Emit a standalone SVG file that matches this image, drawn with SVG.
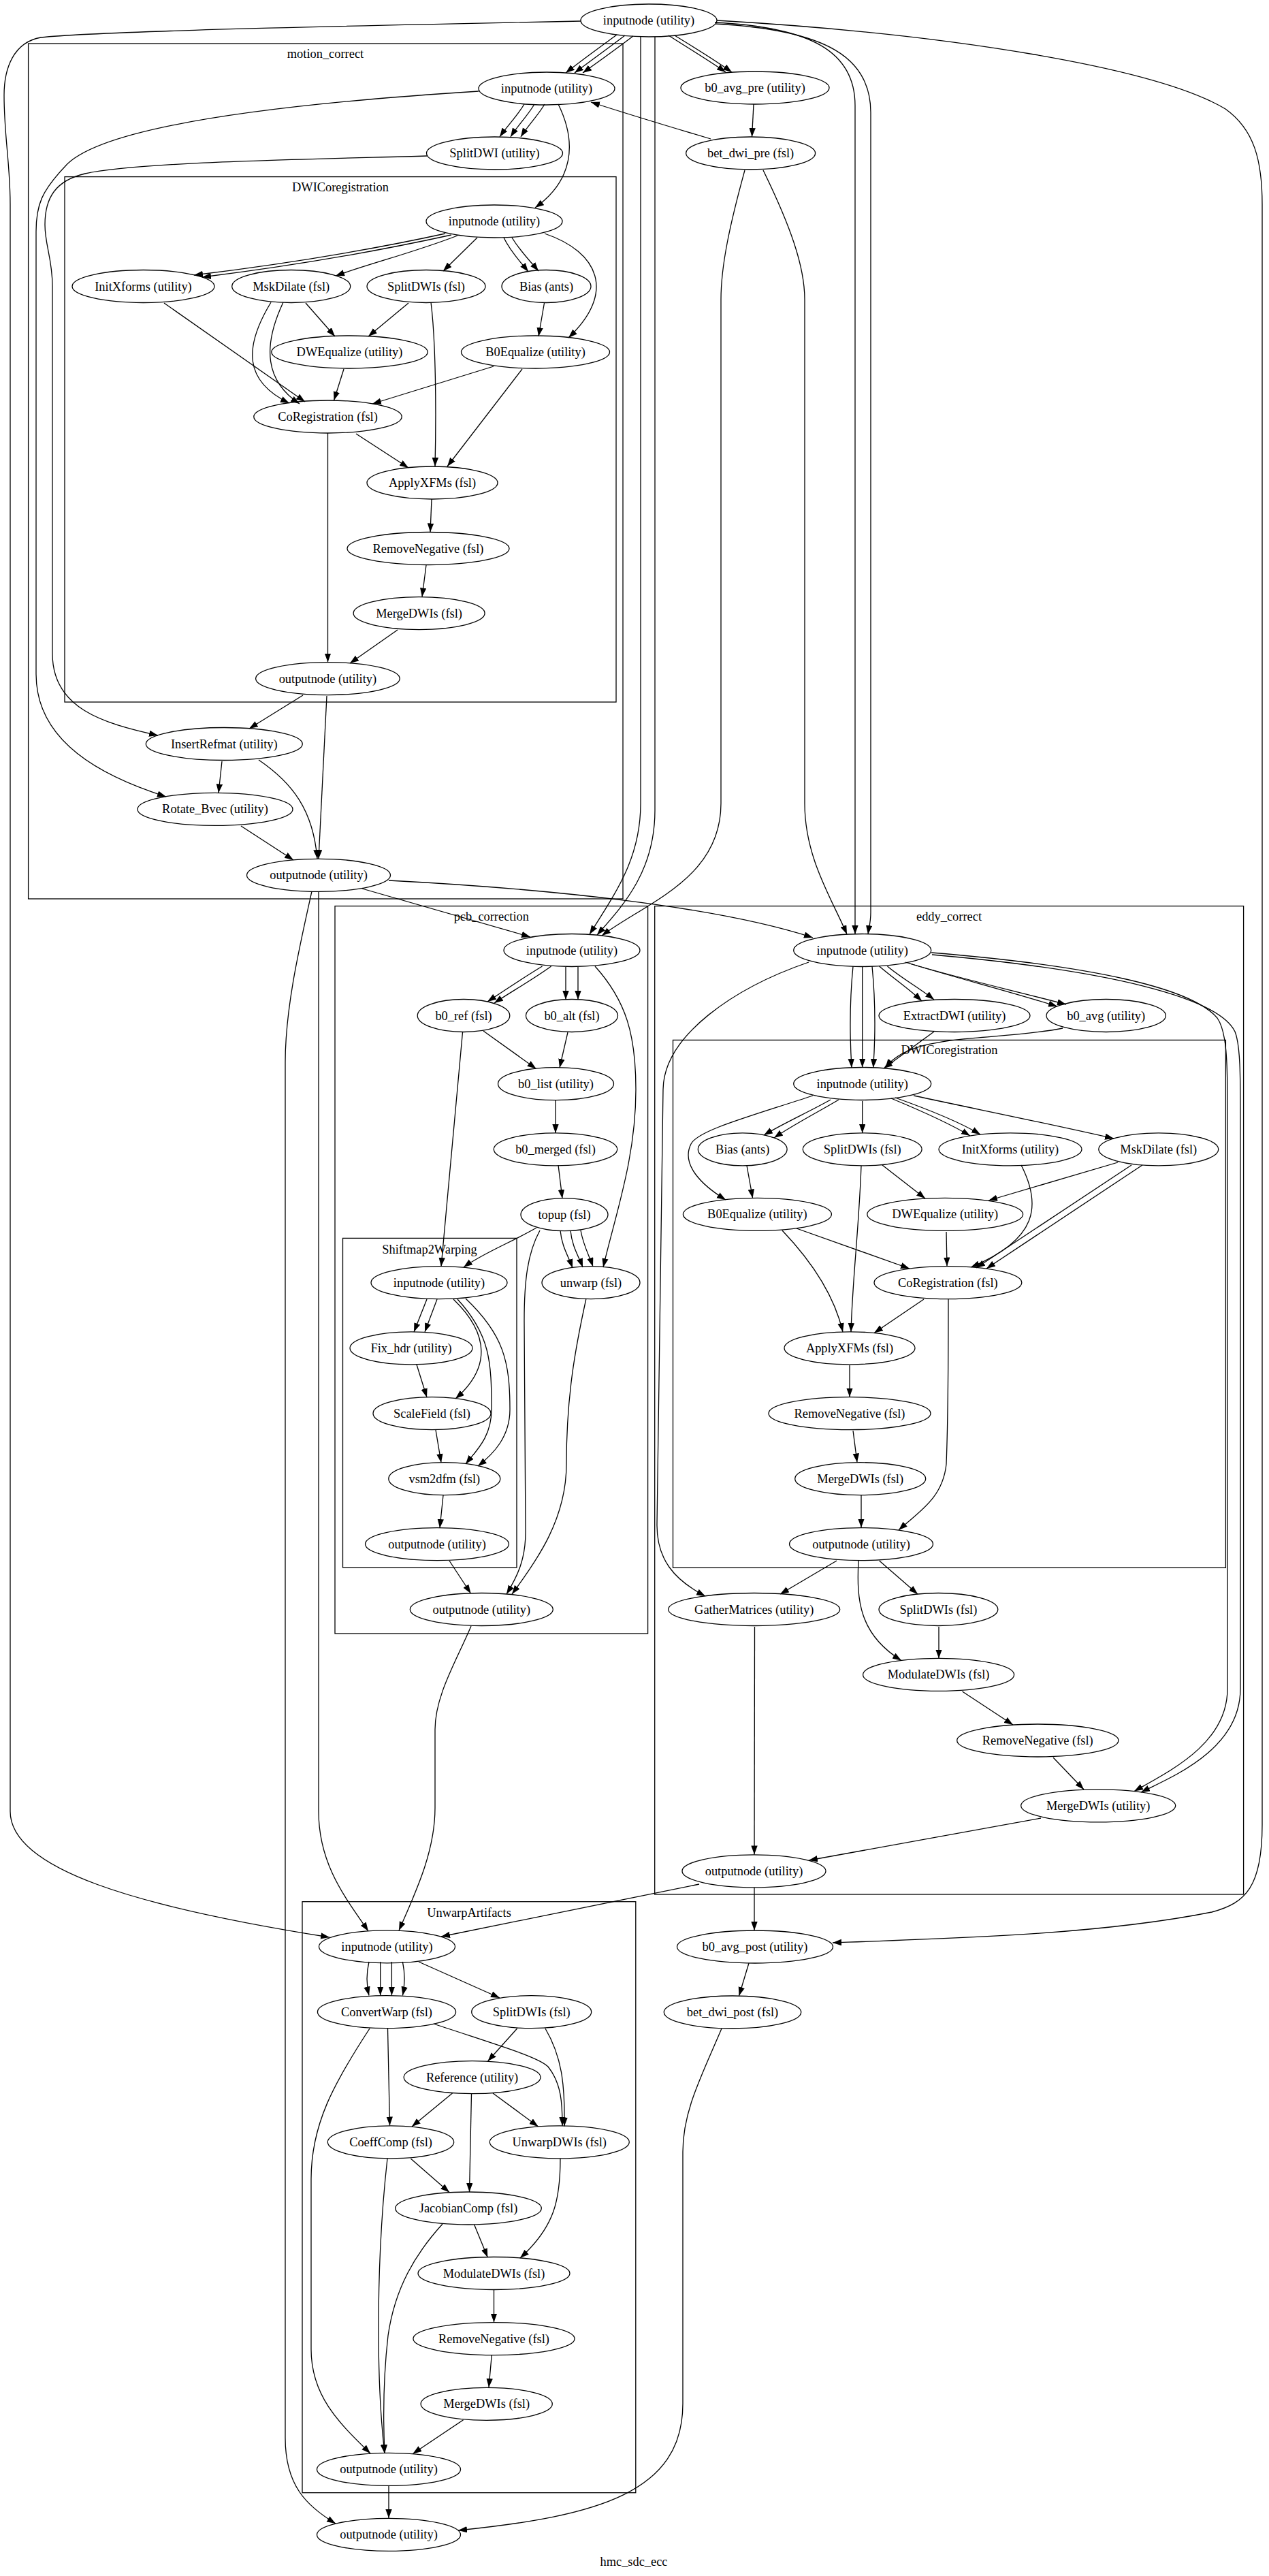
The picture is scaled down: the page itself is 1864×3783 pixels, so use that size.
<svg xmlns="http://www.w3.org/2000/svg" width="1864" height="3783" viewBox="0 0 1864 3783">
<style>
.n ellipse{fill:none;stroke:#000;stroke-width:1.3}
text{font-family:"Liberation Serif","Times New Roman",serif;font-size:18.4px;text-anchor:middle;fill:#000}
.c rect{fill:none;stroke:#000;stroke-width:1.3}
#edges path{fill:none;stroke:#000;stroke-width:1.3;marker-end:url(#ah)}
</style>
<defs>
<marker id="ah" markerUnits="userSpaceOnUse" markerWidth="14" markerHeight="10" refX="13" refY="4.7" orient="auto"><path d="M0,0 L13,4.7 L0,9.4 z" fill="#000"/></marker>
</defs>
<rect width="1864" height="3783" fill="#fff"/>
<g id="clusters">
<g class="c" id="cl_motion_correct"><rect x="41.6" y="64" width="873.4" height="1256"/><text x="478" y="85">motion_correct</text></g>
<g class="c" id="cl_mc_dwicoreg"><rect x="95" y="259.6" width="810" height="771.4"/><text x="500" y="281">DWICoregistration</text></g>
<g class="c" id="cl_pcb"><rect x="492" y="1330.6" width="459.6" height="1068.4"/><text x="721.8" y="1352">pcb_correction</text></g>
<g class="c" id="cl_s2w"><rect x="503.5" y="1818.4" width="255.5" height="483.6"/><text x="631" y="1840.5">Shiftmap2Warping</text></g>
<g class="c" id="cl_eddy"><rect x="961.7" y="1330.6" width="864.9" height="1451.4"/><text x="1394" y="1352">eddy_correct</text></g>
<g class="c" id="cl_ec_dwicoreg"><rect x="988.5" y="1527.4" width="811.9" height="774.9"/><text x="1394.5" y="1548">DWICoregistration</text></g>
<g class="c" id="cl_ua"><rect x="444" y="2792.7" width="489.8" height="868"/><text x="689" y="2815">UnwarpArtifacts</text></g>
</g>
<g id="edges">
<!-- top level -->
<path d="M906,51 C880,70 855,88 831,107"/>
<path d="M918,52 C893,71 868,89 844,107"/>
<path d="M930,53 C905,72 880,90 856,107"/>
<path d="M982,52 C1010,70 1040,88 1066,106"/>
<path d="M991,52 C1020,70 1050,88 1075,106"/>
<path d="M1107,153 L1104.5,201"/>
<path d="M1044,204 C990,188 930,170 868,150"/>
<path d="M941,54 L941,1180 C941,1260 905,1310 866,1372"/>
<path d="M962,54 L962,1190 C962,1280 915,1330 877,1373"/>
<path d="M1094,250 C1072,330 1059,390 1059,440 L1059,1180 C1059,1290 950,1325 884,1374"/>
<path d="M1121,250 C1160,330 1182,390 1182,440 L1182,1180 C1182,1260 1222,1320 1244,1372"/>
<path d="M1050,33 C1190,40 1256,75 1256,155 L1256,1372"/>
<path d="M1051,35 C1215,44 1279,85 1279,165 L1279,1340 C1279,1355 1276,1364 1275,1372"/>
<path d="M1053,30 C1400,50 1700,100 1800,160 C1842,190 1854,235 1854,300 L1854,2680 C1854,2770 1830,2795 1780,2808 C1620,2840 1420,2846 1223,2853"/>
<path d="M853,31 C600,36 150,45 60,55 C20,62 6,100 6,140 C6,200 15,240 15,300 L15,2660 C15,2745 200,2800 484,2845"/>
<path d="M532,1305 L779,1376"/>
<path d="M571,1293 C800,1305 1050,1330 1194,1377"/>
<path d="M468,1309 L468,2660 C468,2740 510,2790 541,2836"/>
<path d="M458,1309 C440,1390 419,1480 419,1560 L419,3580 C419,3650 450,3680 493,3706"/>
<path d="M692,2388 C670,2440 639,2490 639,2540 L639,2655 C639,2720 610,2780 586,2835"/>
<path d="M1027,2767 L648,2844"/>
<path d="M1108,2772 L1108,2835"/>
<path d="M1100,2883 L1085.5,2931"/>
<path d="M1060,2979 C1030,3050 1003,3100 1003,3160 L1003,3530 C1003,3660 880,3695 673,3716"/>
<path d="M571,3651 L571,3698"/>
<!-- motion_correct -->
<path d="M770,153 C760,170 745,185 734,201"/>
<path d="M785,153 C775,170 760,185 750,201"/>
<path d="M800,153 C790,170 775,185 765,201"/>
<path d="M820,153 C848,210 842,265 786,305"/>
<path d="M703,134 C450,150 150,180 95,245 C62,280 53,300 53,340 L53,990 C53,1090 150,1140 244,1170"/>
<path d="M627,229 C450,234 200,238 125,255 C82,265 66,290 66,330 C66,360 77,380 77,420 L77,960 C77,1040 150,1062 232,1080"/>
<path d="M445,1021 L366,1070"/>
<path d="M480,1022 L468,1261"/>
<path d="M326,1118 L321,1164.5"/>
<path d="M380,1116 C430,1150 460,1190 466,1261"/>
<path d="M354,1213 L431,1263"/>
<!-- motion DWICoregistration -->
<path d="M654,343 C530,370 400,390 285,404"/>
<path d="M663,345 C540,372 410,393 297,407"/>
<path d="M672,346 C610,370 550,385 493,405"/>
<path d="M701,349 L651,398"/>
<path d="M740,349 C750,370 765,385 776,399"/>
<path d="M752,349 C765,370 780,385 791,398"/>
<path d="M800,343 C880,370 905,430 835,496"/>
<path d="M449,445 L492,494"/>
<path d="M600,445 L541,494"/>
<path d="M633,444 C640,500 641,600 639,685"/>
<path d="M799.5,445 L791,494"/>
<path d="M398,444 C358,510 358,560 425,592"/>
<path d="M416,444 C385,510 390,560 440,593"/>
<path d="M241,445 L448,590"/>
<path d="M505,542 L490.5,588"/>
<path d="M725,538 L547,593"/>
<path d="M767,542 L657,685"/>
<path d="M523,637 L600,687"/>
<path d="M481.5,636 L481.5,972.5"/>
<path d="M634,733 L632,781.5"/>
<path d="M626,830 L620,876.5"/>
<path d="M584,925 L514,974"/>
<!-- pcb_correction -->
<path d="M796.5,1419 C770,1435 740,1455 716,1471"/>
<path d="M809.6,1419 C785,1437 750,1457 726,1473"/>
<path d="M831,1420 L831,1468"/>
<path d="M849,1420 L849,1468"/>
<path d="M874,1419 C920,1470 934,1520 934,1600 C934,1700 905,1780 886,1861"/>
<path d="M710,1514 L787.5,1569.5"/>
<path d="M834,1516 L822,1568"/>
<path d="M816,1615 L816,1664"/>
<path d="M820,1711 L826,1760"/>
<path d="M679.5,1516 L648,1860"/>
<path d="M788,1803 C750,1825 710,1840 681,1861"/>
<path d="M823,1807 C825,1830 835,1845 841,1862"/>
<path d="M838,1807 C840,1830 850,1845 856,1861"/>
<path d="M853,1807 C857,1830 866,1845 871,1860"/>
<path d="M793,1807 C775,1840 770,1880 770,1940 L772,2250 C772,2290 760,2315 744,2341"/>
<path d="M861,1907 C845,1980 832,2050 832,2150 C832,2230 790,2290 752,2341"/>
<path d="M627,1908 L608,1956"/>
<path d="M642,1908 L624,1956"/>
<path d="M666,1908 C720,1960 720,2010 669,2054"/>
<path d="M672,1908 C720,1960 722,2000 722,2070 C722,2110 700,2130 684,2150"/>
<path d="M684,1907 C740,1960 749,2000 749,2070 C749,2110 725,2135 702,2153"/>
<path d="M612,2004 L627,2052"/>
<path d="M640,2100 L648,2148"/>
<path d="M651,2196 L646,2244"/>
<path d="M660,2292 L691.5,2340"/>
<!-- eddy_correct -->
<path d="M1291.6,1419 C1310,1435 1335,1452 1354,1470"/>
<path d="M1303.5,1419 C1322,1435 1352,1452 1372,1468"/>
<path d="M1330,1413 C1400,1435 1480,1455 1553,1478"/>
<path d="M1336,1415 C1410,1437 1490,1455 1566,1475"/>
<path d="M1253,1419 C1248,1470 1248,1520 1251,1568"/>
<path d="M1266.7,1419 L1266.7,1567.5"/>
<path d="M1281,1419 C1286,1470 1286,1520 1282.7,1568"/>
<path d="M1188,1413 C1080,1450 975,1520 974,1600 L965,2240 C965,2290 990,2320 1036,2344"/>
<path d="M1368,1399 C1600,1418 1750,1450 1788,1495 C1802,1515 1803,1560 1803,1620 L1803,2480 C1803,2560 1720,2600 1666,2630.5"/>
<path d="M1369,1402 C1630,1425 1790,1465 1814,1515 C1822,1535 1822,1580 1822,1640 L1822,2480 C1822,2570 1720,2610 1676,2632"/>
<path d="M1372,1515 L1298,1569"/>
<path d="M1561,1510 C1460,1530 1340,1515 1300.5,1568"/>
<path d="M1220,1615 C1190,1632 1150,1650 1122,1667"/>
<path d="M1232,1615 C1200,1634 1165,1652 1137,1671"/>
<path d="M1266.7,1617 L1266.7,1664"/>
<path d="M1309,1613 C1350,1630 1395,1650 1425,1668"/>
<path d="M1315,1612 C1360,1628 1410,1648 1440,1666"/>
<path d="M1342,1609 C1440,1630 1540,1650 1636,1672"/>
<path d="M1194,1609 C1100,1640 1025,1660 1015,1680 C1000,1710 1030,1740 1066,1762"/>
<path d="M1097,1712 L1105.6,1759.5"/>
<path d="M1296,1711 L1359,1760"/>
<path d="M1265,1712 C1262,1800 1252,1880 1250,1956"/>
<path d="M1500,1711 C1530,1770 1525,1820 1426,1861"/>
<path d="M1642,1707 L1452,1763"/>
<path d="M1662,1711 L1434,1862"/>
<path d="M1678,1711 L1449,1863"/>
<path d="M1390,1809 L1391,1859.5"/>
<path d="M1170,1804 L1336,1863"/>
<path d="M1149,1807 C1190,1850 1225,1900 1238,1956"/>
<path d="M1357,1908 L1284,1957.5"/>
<path d="M1393,1908 C1393,1990 1392,2100 1390,2150 C1385,2200 1350,2220 1320,2247"/>
<path d="M1248,2005 L1248,2051.5"/>
<path d="M1253,2101 L1259,2147.5"/>
<path d="M1265,2196 L1265,2243.5"/>
<path d="M1229,2292 L1146,2341"/>
<path d="M1291.6,2292 L1348,2341"/>
<path d="M1261,2292 C1258,2350 1262,2400 1324,2438.5"/>
<path d="M1379,2389 L1379,2435.5"/>
<path d="M1108.5,2389 L1108,2723.5"/>
<path d="M1413.5,2484 L1488,2533"/>
<path d="M1547,2581 L1592,2628"/>
<path d="M1529,2670 L1188,2732"/>
<!-- UnwarpArtifacts -->
<path d="M542,2881 C538,2898 538,2914 542,2930.5"/>
<path d="M558.7,2881 L558.7,2930.5"/>
<path d="M575.4,2881 L575.4,2930.5"/>
<path d="M591.4,2881 C595,2898 595,2914 591.4,2930.5"/>
<path d="M615,2881 L734,2934"/>
<path d="M569.5,2979 L572.5,3121.5"/>
<path d="M637,2972 C720,3000 790,3020 805,3035 C825,3060 826,3090 826,3122"/>
<path d="M543,2979 C490,3060 457,3120 457,3200 L457,3450 C457,3520 500,3560 544,3603"/>
<path d="M759.6,2979 L716.5,3027"/>
<path d="M801,2979 C825,3020 830,3060 829,3122.5"/>
<path d="M664.5,3074 L605,3123"/>
<path d="M724,3074 L790.6,3123"/>
<path d="M692.5,3075 L689.5,3219"/>
<path d="M603.3,3170 L660,3219.5"/>
<path d="M569,3170 C560,3250 556,3330 556,3420 C556,3500 560,3560 565,3603"/>
<path d="M823,3170 C823,3230 815,3270 764,3316"/>
<path d="M696.6,3267 L716.3,3315"/>
<path d="M650,3266 C610,3310 580,3360 570,3430 C562,3500 563,3560 565,3603"/>
<path d="M725.5,3362.5 L725.5,3410.5"/>
<path d="M722.2,3459 L718,3506"/>
<path d="M680.6,3553.7 L606.3,3603.5"/>
</g>
<g id="nodes">
<g class="n" id="top_inputnode"><ellipse cx="953" cy="30" rx="100" ry="24"/><text x="953" y="36">inputnode (utility)</text></g>
<g class="n" id="b0_avg_pre"><ellipse cx="1109" cy="129" rx="109" ry="24"/><text x="1109" y="135">b0_avg_pre (utility)</text></g>
<g class="n" id="bet_dwi_pre"><ellipse cx="1102.6" cy="225" rx="95" ry="24"/><text x="1102.6" y="231">bet_dwi_pre (fsl)</text></g>
<g class="n" id="b0_avg_post"><ellipse cx="1109" cy="2859" rx="114.5" ry="24"/><text x="1109" y="2865">b0_avg_post (utility)</text></g>
<g class="n" id="bet_dwi_post"><ellipse cx="1076" cy="2955" rx="100.7" ry="24"/><text x="1076" y="2961">bet_dwi_post (fsl)</text></g>
<g class="n" id="top_outputnode"><ellipse cx="571" cy="3722.4" rx="105.5" ry="24"/><text x="571" y="3728.4">outputnode (utility)</text></g>

<g class="n" id="mc_inputnode"><ellipse cx="803" cy="130" rx="100" ry="24"/><text x="803" y="136">inputnode (utility)</text></g>
<g class="n" id="mc_SplitDWI"><ellipse cx="726.5" cy="225" rx="100" ry="24"/><text x="726.5" y="231">SplitDWI (utility)</text></g>
<g class="n" id="mc_dc_inputnode"><ellipse cx="726" cy="325" rx="100" ry="24"/><text x="726" y="331">inputnode (utility)</text></g>
<g class="n" id="mc_InitXforms"><ellipse cx="210.5" cy="420.5" rx="104.5" ry="24"/><text x="210.5" y="426.5">InitXforms (utility)</text></g>
<g class="n" id="mc_MskDilate"><ellipse cx="427.7" cy="420.5" rx="87" ry="24"/><text x="427.7" y="426.5">MskDilate (fsl)</text></g>
<g class="n" id="mc_SplitDWIs"><ellipse cx="626" cy="420.5" rx="87" ry="24"/><text x="626" y="426.5">SplitDWIs (fsl)</text></g>
<g class="n" id="mc_Bias"><ellipse cx="802.5" cy="420.5" rx="65.5" ry="24"/><text x="802.5" y="426.5">Bias (ants)</text></g>
<g class="n" id="mc_DWEqualize"><ellipse cx="513.5" cy="517" rx="114.7" ry="24"/><text x="513.5" y="523">DWEqualize (utility)</text></g>
<g class="n" id="mc_B0Equalize"><ellipse cx="786.5" cy="517" rx="109" ry="24"/><text x="786.5" y="523">B0Equalize (utility)</text></g>
<g class="n" id="mc_CoRegistration"><ellipse cx="481.5" cy="612" rx="108.7" ry="24"/><text x="481.5" y="618">CoRegistration (fsl)</text></g>
<g class="n" id="mc_ApplyXFMs"><ellipse cx="635" cy="709" rx="96" ry="24"/><text x="635" y="715">ApplyXFMs (fsl)</text></g>
<g class="n" id="mc_RemoveNegative"><ellipse cx="629" cy="805.5" rx="119" ry="24"/><text x="629" y="811.5">RemoveNegative (fsl)</text></g>
<g class="n" id="mc_MergeDWIs"><ellipse cx="615.6" cy="900.6" rx="96.5" ry="24"/><text x="615.6" y="906.6">MergeDWIs (fsl)</text></g>
<g class="n" id="mc_dc_outputnode"><ellipse cx="481.4" cy="996.6" rx="105.8" ry="24"/><text x="481.4" y="1002.6">outputnode (utility)</text></g>
<g class="n" id="mc_InsertRefmat"><ellipse cx="329.3" cy="1092.5" rx="115" ry="24"/><text x="329.3" y="1098.5">InsertRefmat (utility)</text></g>
<g class="n" id="mc_Rotate_Bvec"><ellipse cx="316" cy="1188.4" rx="114" ry="24"/><text x="316" y="1194.4">Rotate_Bvec (utility)</text></g>
<g class="n" id="mc_outputnode"><ellipse cx="468" cy="1285.3" rx="105.5" ry="24"/><text x="468" y="1291.3">outputnode (utility)</text></g>

<g class="n" id="pcb_inputnode"><ellipse cx="840" cy="1395.5" rx="100" ry="24"/><text x="840" y="1401.5">inputnode (utility)</text></g>
<g class="n" id="pcb_b0_ref"><ellipse cx="681" cy="1491.5" rx="67.8" ry="24"/><text x="681" y="1497.5">b0_ref (fsl)</text></g>
<g class="n" id="pcb_b0_alt"><ellipse cx="840" cy="1491.5" rx="67.5" ry="24"/><text x="840" y="1497.5">b0_alt (fsl)</text></g>
<g class="n" id="pcb_b0_list"><ellipse cx="816.5" cy="1591.7" rx="85" ry="24"/><text x="816.5" y="1597.7">b0_list (utility)</text></g>
<g class="n" id="pcb_b0_merged"><ellipse cx="816" cy="1687.8" rx="90.7" ry="24"/><text x="816" y="1693.8">b0_merged (fsl)</text></g>
<g class="n" id="pcb_topup"><ellipse cx="829" cy="1783.7" rx="64" ry="24"/><text x="829" y="1789.7">topup (fsl)</text></g>
<g class="n" id="s2w_inputnode"><ellipse cx="645" cy="1883.7" rx="100" ry="24"/><text x="645" y="1889.7">inputnode (utility)</text></g>
<g class="n" id="pcb_unwarp"><ellipse cx="868" cy="1883.7" rx="72" ry="24"/><text x="868" y="1889.7">unwarp (fsl)</text></g>
<g class="n" id="s2w_Fix_hdr"><ellipse cx="604" cy="1979.8" rx="90" ry="24"/><text x="604" y="1985.8">Fix_hdr (utility)</text></g>
<g class="n" id="s2w_ScaleField"><ellipse cx="634.5" cy="2075.7" rx="86.5" ry="24"/><text x="634.5" y="2081.7">ScaleField (fsl)</text></g>
<g class="n" id="s2w_vsm2dfm"><ellipse cx="652.8" cy="2171.7" rx="82" ry="24"/><text x="652.8" y="2177.7">vsm2dfm (fsl)</text></g>
<g class="n" id="s2w_outputnode"><ellipse cx="642" cy="2267.6" rx="105.5" ry="24"/><text x="642" y="2273.6">outputnode (utility)</text></g>
<g class="n" id="pcb_outputnode"><ellipse cx="707.3" cy="2363.5" rx="105" ry="24"/><text x="707.3" y="2369.5">outputnode (utility)</text></g>

<g class="n" id="ec_inputnode"><ellipse cx="1266.7" cy="1395.5" rx="101" ry="24"/><text x="1266.7" y="1401.5">inputnode (utility)</text></g>
<g class="n" id="ec_ExtractDWI"><ellipse cx="1402" cy="1491.5" rx="111" ry="24"/><text x="1402" y="1497.5">ExtractDWI (utility)</text></g>
<g class="n" id="ec_b0_avg"><ellipse cx="1624.7" cy="1491.5" rx="87.7" ry="24"/><text x="1624.7" y="1497.5">b0_avg (utility)</text></g>
<g class="n" id="ec_dc_inputnode"><ellipse cx="1266.7" cy="1591.5" rx="101" ry="24"/><text x="1266.7" y="1597.5">inputnode (utility)</text></g>
<g class="n" id="ec_Bias"><ellipse cx="1090.7" cy="1687.8" rx="65.4" ry="24"/><text x="1090.7" y="1693.8">Bias (ants)</text></g>
<g class="n" id="ec_SplitDWIs"><ellipse cx="1266.7" cy="1687.8" rx="87.4" ry="24"/><text x="1266.7" y="1693.8">SplitDWIs (fsl)</text></g>
<g class="n" id="ec_InitXforms"><ellipse cx="1484" cy="1687.8" rx="105" ry="24"/><text x="1484" y="1693.8">InitXforms (utility)</text></g>
<g class="n" id="ec_MskDilate"><ellipse cx="1701.8" cy="1687.8" rx="88" ry="24"/><text x="1701.8" y="1693.8">MskDilate (fsl)</text></g>
<g class="n" id="ec_B0Equalize"><ellipse cx="1112.4" cy="1783.3" rx="109" ry="24"/><text x="1112.4" y="1789.3">B0Equalize (utility)</text></g>
<g class="n" id="ec_DWEqualize"><ellipse cx="1388.2" cy="1783.3" rx="114.4" ry="24"/><text x="1388.2" y="1789.3">DWEqualize (utility)</text></g>
<g class="n" id="ec_CoRegistration"><ellipse cx="1392.4" cy="1883.7" rx="108.4" ry="24"/><text x="1392.4" y="1889.7">CoRegistration (fsl)</text></g>
<g class="n" id="ec_ApplyXFMs"><ellipse cx="1248" cy="1979.8" rx="96" ry="24"/><text x="1248" y="1985.8">ApplyXFMs (fsl)</text></g>
<g class="n" id="ec_RemoveNegative"><ellipse cx="1248" cy="2075.7" rx="119" ry="24"/><text x="1248" y="2081.7">RemoveNegative (fsl)</text></g>
<g class="n" id="ec_MergeDWIs"><ellipse cx="1263.7" cy="2171.7" rx="96" ry="24"/><text x="1263.7" y="2177.7">MergeDWIs (fsl)</text></g>
<g class="n" id="ec_dc_outputnode"><ellipse cx="1265" cy="2267.6" rx="105.5" ry="24"/><text x="1265" y="2273.6">outputnode (utility)</text></g>
<g class="n" id="ec_GatherMatrices"><ellipse cx="1107.7" cy="2363.5" rx="126" ry="24"/><text x="1107.7" y="2369.5">GatherMatrices (utility)</text></g>
<g class="n" id="ec_SplitDWIs2"><ellipse cx="1378.4" cy="2363.5" rx="87.4" ry="24"/><text x="1378.4" y="2369.5">SplitDWIs (fsl)</text></g>
<g class="n" id="ec_ModulateDWIs"><ellipse cx="1378.6" cy="2459.4" rx="111" ry="24"/><text x="1378.6" y="2465.4">ModulateDWIs (fsl)</text></g>
<g class="n" id="ec_RemoveNegative2"><ellipse cx="1524.3" cy="2556" rx="118.6" ry="24"/><text x="1524.3" y="2562">RemoveNegative (fsl)</text></g>
<g class="n" id="ec_MergeDWIs_u"><ellipse cx="1613.2" cy="2651.8" rx="113.5" ry="24"/><text x="1613.2" y="2657.8">MergeDWIs (utility)</text></g>
<g class="n" id="ec_outputnode"><ellipse cx="1107.5" cy="2747.8" rx="105.5" ry="24"/><text x="1107.5" y="2753.8">outputnode (utility)</text></g>

<g class="n" id="ua_inputnode"><ellipse cx="568.5" cy="2858.8" rx="100" ry="24"/><text x="568.5" y="2864.8">inputnode (utility)</text></g>
<g class="n" id="ua_ConvertWarp"><ellipse cx="568" cy="2954.7" rx="101.6" ry="24"/><text x="568" y="2960.7">ConvertWarp (fsl)</text></g>
<g class="n" id="ua_SplitDWIs"><ellipse cx="780.7" cy="2954.7" rx="88" ry="24"/><text x="780.7" y="2960.7">SplitDWIs (fsl)</text></g>
<g class="n" id="ua_Reference"><ellipse cx="693.6" cy="3050.7" rx="100.4" ry="24"/><text x="693.6" y="3056.7">Reference (utility)</text></g>
<g class="n" id="ua_CoeffComp"><ellipse cx="574" cy="3145.8" rx="92.7" ry="24"/><text x="574" y="3151.8">CoeffComp (fsl)</text></g>
<g class="n" id="ua_UnwarpDWIs"><ellipse cx="821.8" cy="3145.8" rx="102.5" ry="24"/><text x="821.8" y="3151.8">UnwarpDWIs (fsl)</text></g>
<g class="n" id="ua_JacobianComp"><ellipse cx="688" cy="3243" rx="107.3" ry="24"/><text x="688" y="3249">JacobianComp (fsl)</text></g>
<g class="n" id="ua_ModulateDWIs"><ellipse cx="725.5" cy="3338.5" rx="111.5" ry="24"/><text x="725.5" y="3344.5">ModulateDWIs (fsl)</text></g>
<g class="n" id="ua_RemoveNegative"><ellipse cx="725.5" cy="3434.6" rx="118.6" ry="24"/><text x="725.5" y="3440.6">RemoveNegative (fsl)</text></g>
<g class="n" id="ua_MergeDWIs"><ellipse cx="714.7" cy="3530.3" rx="96.6" ry="24"/><text x="714.7" y="3536.3">MergeDWIs (fsl)</text></g>
<g class="n" id="ua_outputnode"><ellipse cx="571" cy="3626.4" rx="105.5" ry="24"/><text x="571" y="3632.4">outputnode (utility)</text></g>
</g>
<text x="931" y="3768">hmc_sdc_ecc</text>
</svg>
